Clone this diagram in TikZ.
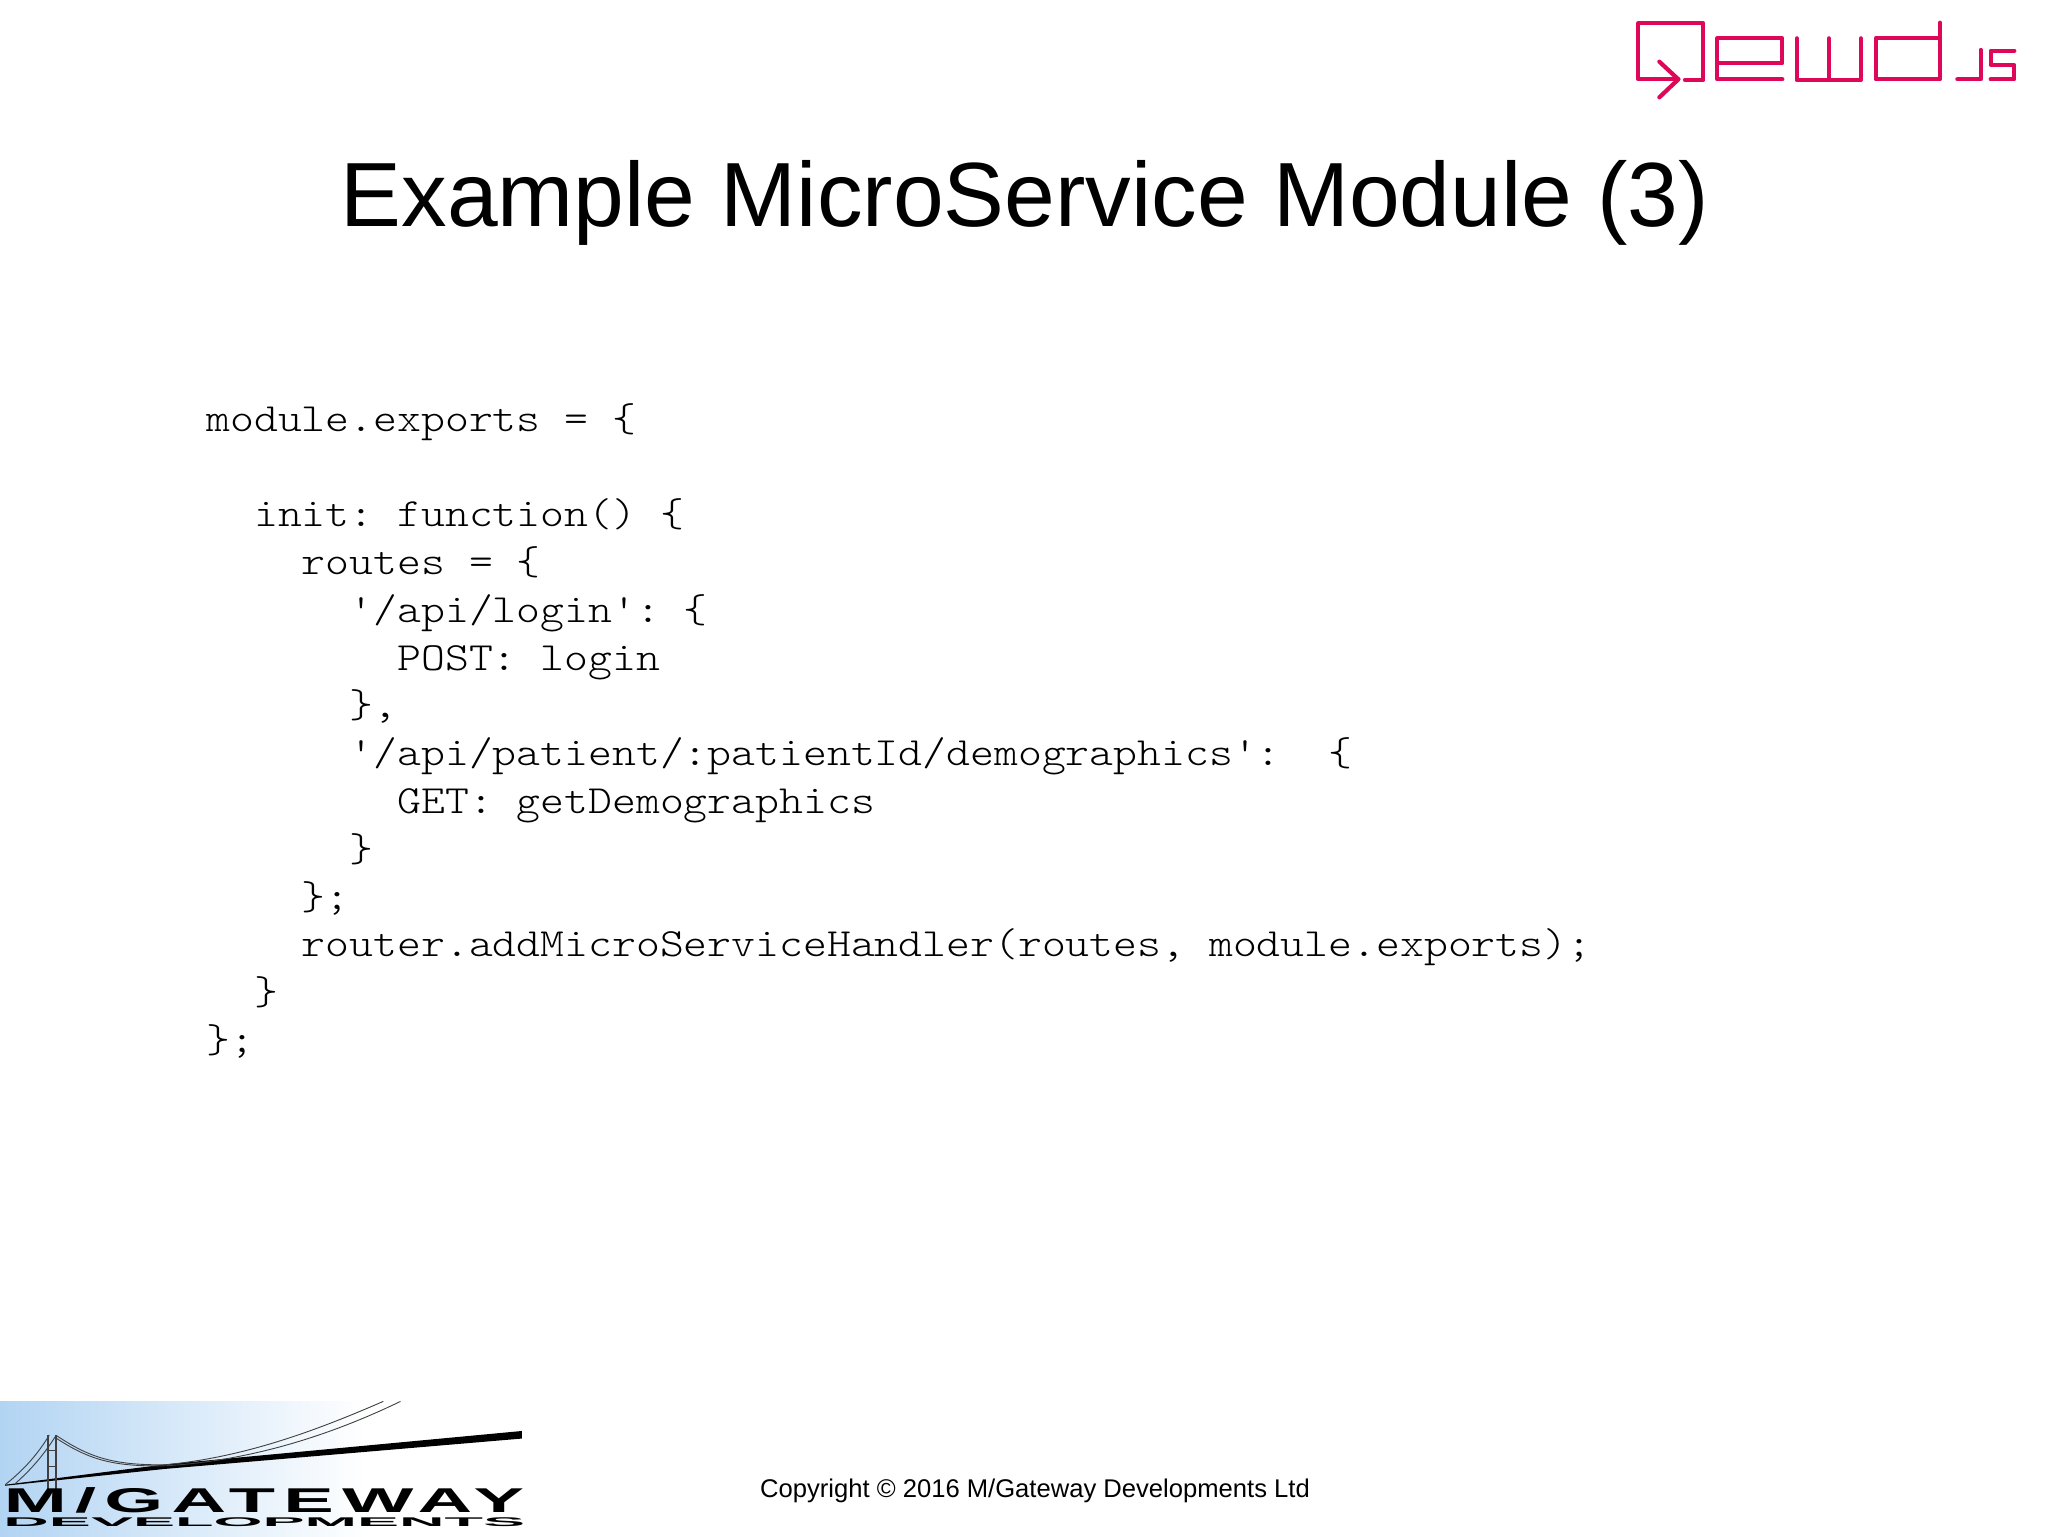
\documentclass[tikz,border=0pt]{standalone}
\usepackage{fontspec}
\usepackage{xcolor}
\setmainfont{Liberation Sans}
\setmonofont[FakeStretch=1.137]{Latin Modern Mono Light}
\newfontfamily\gatewayfont[FakeStretch=2.2,LetterSpace=24]{Liberation Sans Bold}
\newfontfamily\developfont[FakeStretch=5]{Liberation Sans Bold}
\usetikzlibrary{positioning,shadings}
\definecolor{qewdred}{RGB}{222,8,90}
\definecolor{gatewayblue}{RGB}{178,212,243}
\tikzstyle{title} = [inner sep=0pt, anchor=base, font=\fontsize{45.6}{45.6}\selectfont]
\tikzstyle{codeline} = [inner sep=0pt, text width=800pt, text height=14pt, text depth=5pt, align=flush left, font=\ttfamily\fontsize{20}{20}\selectfont\frenchspacing]
\tikzstyle{copyright} = [inner sep=0pt, anchor=base, font=\fontsize{12.8}{12.8}\selectfont]
\tikzstyle{qewdline} = [draw=qewdred, line width=2.1pt, line cap=round, line join=round]
\tikzstyle{cable} = [draw=black!75, line width=0.45pt]
\newcommand{\ind}[1]{\phantom{#1}}
\begin{document}
\begin{tikzpicture}[x=0.5pt, y=-0.5pt, node distance=23.9pt]
\useasboundingbox (0,0) rectangle (2048,1536);
\node (title) [title] at (1025,226) {Example MicroService Module (3)};
% code
\node (line1) [codeline, anchor=base west] at (206,431) {module.exports = \{};
\node (line2) [codeline, below of=line1, yshift=-23.9pt] {\ind{xx}init: function() \{};
\node (line3) [codeline, below of=line2] {\ind{xxxx}routes = \{};
\node (line4) [codeline, below of=line3] {\ind{xxxxxx}'/api/login': \{};
\node (line5) [codeline, below of=line4] {\ind{xxxxxxxx}POST: login};
\node (line6) [codeline, below of=line5] {\ind{xxxxxx}\},};
\node (line7) [codeline, below of=line6] {\ind{xxxxxx}'/api/patient/:patientId/demographics':\ind{xx}\{};
\node (line8) [codeline, below of=line7] {\ind{xxxxxxxx}GET: getDemographics};
\node (line9) [codeline, below of=line8] {\ind{xxxxxx}\}};
\node (line10) [codeline, below of=line9] {\ind{xxxx}\};};
\node (line11) [codeline, below of=line10] {\ind{xxxx}router.addMicroServiceHandler(routes, module.exports);};
\node (line12) [codeline, below of=line11] {\ind{xx}\}};
\node (line13) [codeline, below of=line12] {\};};
\node (copy) [copyright] at (1035,1497) {Copyright © 2016 M/Gateway Developments Ltd};
% qewd logo
\begin{scope}[shift={(1600,0)}, scale=1/3]
\draw [qewdline] (255,240) -- (310,240) -- (310,70) -- (115,70) -- (115,238) -- (235,238);
\draw [qewdline] (178,185) -- (235,238) -- (178,292);
\draw [qewdline] (547,238) -- (352,238) -- (352,115) -- (547,115) -- (547,190) -- (352,190);
\draw [qewdline] (590,115) -- (590,240) -- (782,240) -- (782,115);
\draw [qewdline] (686,115) -- (686,240);
\draw [qewdline] (1020,68) -- (1020,238) -- (827,238) -- (827,115) -- (1020,115);
\draw [qewdline] (1072,238) -- (1142,238) -- (1142,150);
\draw [qewdline] (1243,152) -- (1172,152) -- (1172,195) -- (1243,195) -- (1243,238) -- (1172,238);
\end{scope}
% gateway logo
\shade [left color=gatewayblue, right color=white] (0,1401) rectangle (365,1536);
\begin{scope}[shift={(0,1380)}, scale=0.3444]
\fill (15,304) -- (480,245) -- (1515,148) -- (1515,170) -- (480,258) -- (15,307) -- cycle;
\draw [cable, line width=1pt] (140,160) -- (140,318);
\draw [cable, line width=1pt] (164,160) -- (164,318);
\draw [cable] (140,205) -- (164,205);
\draw [cable] (140,250) -- (164,250);
\draw [cable] (15,304) .. controls (70,260) and (110,215) .. (143,160);
\draw [cable] (45,300) .. controls (90,260) and (125,220) .. (160,165);
\draw [cable] (165,162) .. controls (260,225) and (330,248) .. (480,246);
\draw [cable] (165,170) .. controls (260,232) and (330,252) .. (480,249);
\draw [cable] (480,246) .. controls (700,225) and (900,155) .. (1113,62);
\draw [cable] (480,249) .. controls (720,235) and (950,165) .. (1163,62);
\node (gateway) [inner sep=0pt, anchor=base west, font=\gatewayfont\fontsize{17.2}{17.2}\selectfont] at (10,385) {M/GATEWAY};
\node (develop) [inner sep=0pt, anchor=base west, font=\developfont\fontsize{6.3}{6.3}\selectfont] at (9,426) {DEVELOPMENTS};
\end{scope}
\end{tikzpicture}
\end{document}
